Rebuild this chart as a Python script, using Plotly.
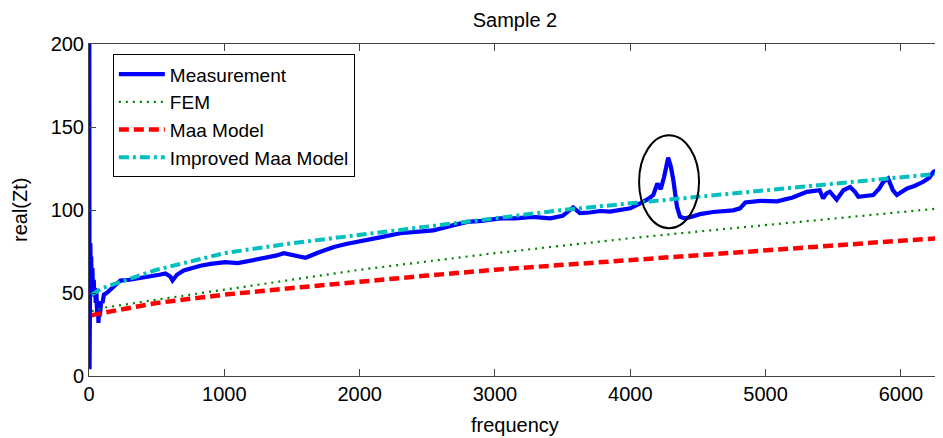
import plotly.graph_objects as go

# ---------------- data ----------------
meas_f = [2, 4, 6, 8, 10, 13, 16, 20, 25, 30, 35, 40, 45, 50, 55, 60, 65, 70, 75, 80,
          90, 100, 110, 130, 160, 200, 232, 300, 380, 454, 520, 565, 600, 617, 650,
          700, 760, 823, 900, 1007, 1100, 1192, 1250, 1300, 1380, 1440, 1500, 1600,
          1700, 1810, 1900, 2055, 2150, 2300, 2400, 2545, 2650, 2795, 2900, 3040,
          3150, 3280, 3408, 3500, 3578, 3628, 3700, 3778, 3850, 3925, 4000, 4073,
          4130, 4170, 4200, 4225, 4250, 4280, 4300, 4318, 4345, 4367, 4400, 4442,
          4515, 4612, 4700, 4760, 4811, 4850, 4960, 5085, 5200, 5305, 5400, 5425,
          5450, 5475, 5525, 5575, 5625, 5660, 5685, 5740, 5795, 5840, 5870, 5905,
          5940, 5970, 6000, 6045, 6100, 6165, 6210, 6240, 6290]
meas_v = [230, 4, 120, 10, 80, 62, 72, 55, 65, 50, 58, 48, 53, 44, 50, 38, 45, 32, 42, 36,
          45, 44, 49, 50, 52, 55, 57.5, 58, 59, 59.6, 61, 61.8, 60, 57.5, 61,
          63.6, 65, 66.4, 67.5, 68.6, 68, 69.5, 70.5, 71, 72.5, 74, 73, 71.2,
          74.5, 77.7, 79.5, 82.3, 83.5, 86, 86.5, 87.7, 90, 92.8, 93.5, 95,
          95, 95.8, 95, 96.5, 101.6, 98.2, 98.5, 99.4, 99, 99.8, 101, 104,
          106.5, 109, 116, 112.5, 120, 131.5, 126, 118, 102, 96, 95, 95.6,
          97.5, 98.8, 99.5, 99.8, 101, 104.5, 105.5, 105.2, 107.5, 110.9, 111.9, 107,
          110, 111, 106.3, 111.9, 113.9, 111, 108, 108.5, 109, 113, 117, 119,
          112, 109, 110.5, 113, 114.5, 117, 119.5, 123, 125]

model_f = [20, 100, 500, 1000, 1500, 2000, 2500, 3000, 3500, 4000, 4500, 5000, 5500, 6000, 6290]
fem_v = [39, 41, 46, 52, 58, 64, 69, 74, 78.5, 83, 87, 91, 95, 99, 101]
maa_v = [36.5, 38, 44, 49, 53, 57, 60.5, 64, 67, 70, 73, 76, 79, 81.5, 83]
imp_v = [49, 53, 64, 74, 80, 85, 90, 95, 100, 104, 108, 112, 116, 120, 122]

x_ticks = [0, 1000, 2000, 3000, 4000, 5000, 6000]
y_ticks = [0, 50, 100, 150, 200]
x_range = [0, 6296]
y_range = [0, 200]

# highlighted peak (ellipse annotation) in data units
hl_f = [4065, 4508]
hl_v = [89, 145]

FONT = "Liberation Sans, Arial, sans-serif"

fig = go.Figure()
fig.add_trace(go.Scatter(x=meas_f, y=meas_v, mode="lines", name="Measurement",
                         line=dict(color="rgb(0,0,255)", width=4.2)))
fig.add_trace(go.Scatter(x=model_f, y=fem_v, mode="lines", name="FEM",
                         line=dict(color="rgb(0,128,0)", width=2.2, dash="2px,5px")))
fig.add_trace(go.Scatter(x=model_f, y=maa_v, mode="lines", name="Maa Model",
                         line=dict(color="rgb(255,0,0)", width=4.5, dash="10px,5px")))
fig.add_trace(go.Scatter(x=model_f, y=imp_v, mode="lines", name="Improved Maa Model",
                         line=dict(color="rgb(0,191,191)", width=4, dash="10px,4px,3px,4px")))

fig.add_shape(type="circle", xref="x", yref="y",
              x0=hl_f[0], x1=hl_f[1], y0=hl_v[0], y1=hl_v[1],
              line=dict(color="black", width=2))

fig.add_annotation(text="frequency", xref="paper", yref="paper", x=0.5, y=-(425 - 376) / 332,
                   xanchor="center", yanchor="middle", showarrow=False,
                   font=dict(size=20))
fig.add_annotation(text="real(Zt)", xref="paper", yref="paper", x=-(89 - 20) / 852, y=0.5,
                   xanchor="center", yanchor="middle", showarrow=False, textangle=-90,
                   font=dict(size=20))

fig.update_layout(
    width=943, height=438,
    margin=dict(l=81, r=10, t=36, b=70, autoexpand=False),
    paper_bgcolor="white", plot_bgcolor="white",
    font=dict(family=FONT, size=20, color="black"),
    title=dict(text="Sample 2", x=0.5, xref="paper", y=1 - 12 / 438, yref="container",
               xanchor="center", yanchor="middle", font=dict(size=20)),
    showlegend=True,
    legend=dict(x=0.028, y=0.969, xanchor="left", yanchor="top",
                bgcolor="white", bordercolor="black", borderwidth=1,
                font=dict(size=19), tracegroupgap=0, itemwidth=46),
    xaxis=dict(range=x_range, tickvals=x_ticks, ticks="inside", ticklen=7,
               tickcolor="#444", showline=True, linecolor="#444", linewidth=1,
               mirror="ticks", showgrid=False, zeroline=False, automargin=False),
    yaxis=dict(range=y_range, tickvals=y_ticks, ticks="inside", ticklen=7,
               tickcolor="#444", showline=True, linecolor="#444", linewidth=1,
               mirror=False, showgrid=False, zeroline=False, automargin=False),
)

fig.write_html("out.html")
